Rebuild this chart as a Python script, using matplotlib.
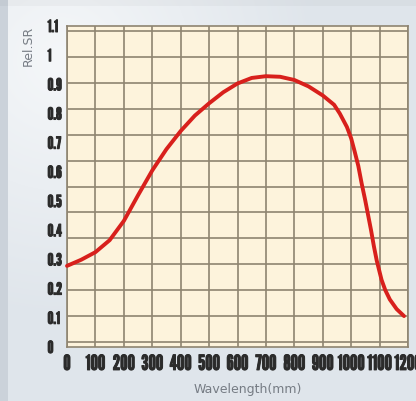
import numpy as np
import matplotlib
matplotlib.use("Agg")
import matplotlib.pyplot as plt
import matplotlib.patheffects as pe
from matplotlib.colors import to_rgb

# ---- data ----
wavelength = [0, 50, 100, 150, 200, 250, 300, 350, 400, 450, 500, 550, 600, 650,
              700, 750, 800, 850, 900, 940, 960, 985, 1000, 1012, 1025, 1037,
              1049, 1060, 1070, 1080, 1090, 1107, 1120, 1136, 1160, 1186]
rel_sr = [0.278, 0.299, 0.325, 0.366, 0.432, 0.520, 0.605, 0.678, 0.740, 0.793,
          0.835, 0.873, 0.903, 0.922, 0.928, 0.926, 0.915, 0.893, 0.862, 0.830,
          0.800, 0.754, 0.715, 0.671, 0.621, 0.560, 0.505, 0.450, 0.400, 0.345,
          0.296, 0.230, 0.195, 0.163, 0.130, 0.106]
x_ticks = list(range(0, 1201, 100))
y_ticks = [0, 0.1, 0.2, 0.3, 0.4, 0.5, 0.6, 0.7, 0.8, 0.9, 1.0, 1.1]
y_tick_labels = ["0", "0.1", "0.2", "0.3", "0.4", "0.5", "0.6", "0.7", "0.8", "0.9", "1", "1.1"]

W, H = 416, 401
fig = plt.figure(figsize=(W / 100, H / 100), dpi=100)

# ---- background gradient ----
bg = fig.add_axes([0, 0, 1, 1], zorder=-10)
yy, xx = np.mgrid[0:H, 0:W]
base = np.array(to_rgb("#dfe5eb"))
light = np.array(to_rgb("#f5f7f9"))
d = np.sqrt(((xx - 60) / 260.0) ** 2 + ((yy - 60) / 260.0) ** 2)
t = np.clip(1 - d, 0, 1)[..., None]
img = base * (1 - t) + light * t
img[:, :8] = np.array(to_rgb("#cbd2da"))
img[:6, :] = img[:6, :] * 0.97
bg.imshow(img, aspect="auto", extent=[0, W, H, 0])
bg.set_axis_off()

# ---- main axes ----
left, right, bottom, top = 67, 408, 347, 26
ax = fig.add_axes([left / W, 1 - bottom / H, (right - left) / W, (bottom - top) / H])
ax.set_facecolor("#fdf3dc")
ylo = (352 - 347) / 301.0
yhi = (352 - 26) / 301.0
ax.set_xlim(0, 1200)
ax.set_ylim(ylo, yhi)

grid_c = "#8e8470"
ax.set_xticks(x_ticks)
ax.set_xticklabels([str(v) for v in x_ticks])
ax.set_yticks(y_ticks)
ax.set_yticklabels(y_tick_labels)
ax.set_yticks(np.linspace(ylo, yhi, 13), minor=True)
ax.grid(False)
for xv in x_ticks:
    ax.axvline(xv, color=grid_c, lw=1.2, zorder=1)
ax.yaxis.grid(True, which="minor", color=grid_c, lw=1.2)
ax.set_axisbelow(True)
for s in ax.spines.values():
    s.set_color(grid_c)
    s.set_linewidth(1.2)

narrow = ["League Gothic", "Oswald", "Anton", "DejaVu Sans"]
lab_c = "#2b2b2b"
bold_fx = [pe.withStroke(linewidth=0.7, foreground=lab_c)]
ax.tick_params(axis="both", which="both", length=0)
ax.tick_params(axis="x", pad=5, labelsize=15, labelcolor=lab_c)
ax.tick_params(axis="y", pad=14, labelsize=12, labelcolor=lab_c)
for lab in ax.get_xticklabels():
    lab.set_family(narrow)
    lab.set_path_effects(bold_fx)
for lab in ax.get_yticklabels():
    lab.set_family(narrow)
    lab.set_ha("left")
    lab.set_path_effects(bold_fx)

ax.plot(wavelength, rel_sr, color="#d8201c", lw=2.8, solid_capstyle="round",
        solid_joinstyle="round", zorder=5, clip_on=False)

fig.text(28 / W, 1 - 46 / H, "Rel.SR", rotation=90, ha="center", va="center",
         fontsize=9, color="#767c84", family="DejaVu Sans")
fig.text(248 / W, 1 - 389 / H, "Wavelength(mm)", ha="center", va="center",
         fontsize=9, color="#767c84", family="DejaVu Sans")

fig.savefig("out.png", dpi=100)
